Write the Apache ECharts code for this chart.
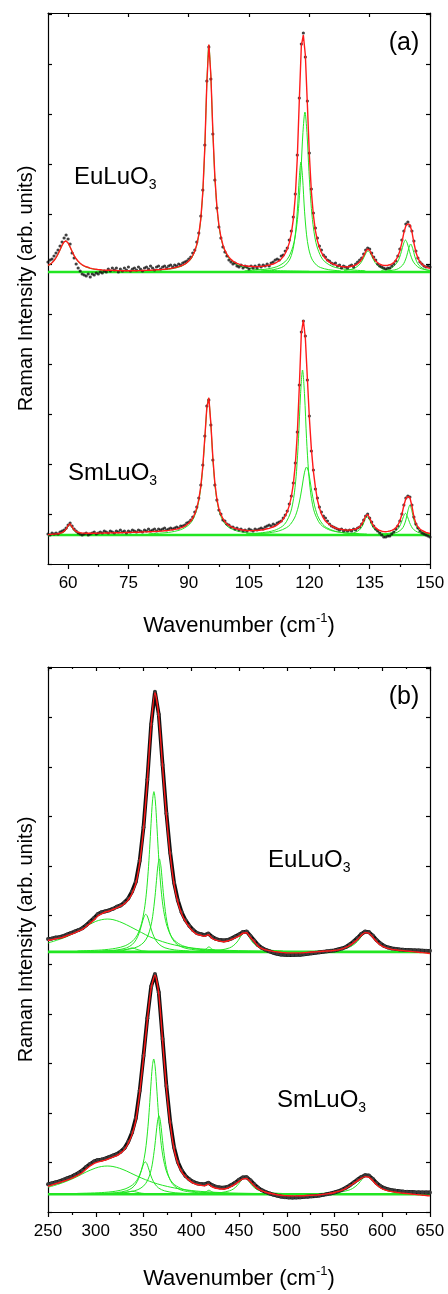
<!DOCTYPE html>
<html><head><meta charset="utf-8">
<script src="https://cdn.jsdelivr.net/npm/echarts@6/dist/echarts.min.js"></script>
<style>html,body{margin:0;padding:0;background:#fff}#c{width:448px;height:1294px}</style>
</head><body><div id="c"></div>
<script>
// ================= DATA =================
// Panel (a): low-frequency region, sampled every 0.5 cm-1
const aWave = [55,55.5,56,56.5,57,57.5,58,58.5,59,59.5,60,60.5,61,61.5,62,62.5,63,63.5,64,64.5,
65,65.5,66,66.5,67,67.5,68,68.5,69,69.5,70,70.5,71,71.5,72,72.5,73,73.5,74,74.5,
75,75.5,76,76.5,77,77.5,78,78.5,79,79.5,80,80.5,81,81.5,82,82.5,83,83.5,84,84.5,
85,85.5,86,86.5,87,87.5,88,88.5,89,89.5,90,90.5,91,91.5,92,92.5,93,93.5,94,94.5,
95,95.5,96,96.5,97,97.5,98,98.5,99,99.5,100,100.5,101,101.5,102,102.5,103,103.5,104,104.5,
105,105.5,106,106.5,107,107.5,108,108.5,109,109.5,110,110.5,111,111.5,112,112.5,113,113.5,114,114.5,
115,115.5,116,116.5,117,117.5,118,118.5,119,119.5,120,120.5,121,121.5,122,122.5,123,123.5,124,124.5,
125,125.5,126,126.5,127,127.5,128,128.5,129,129.5,130,130.5,131,131.5,132,132.5,133,133.5,134,134.5,
135,135.5,136,136.5,137,137.5,138,138.5,139,139.5,140,140.5,141,141.5,142,142.5,143,143.5,144,144.5,
145,145.5,146,146.5,147,147.5,148,148.5,149,149.5,150];

const aEuFit = [298.5,299.8,301.3,303.5,306.4,310,314.3,318.8,322.2,323.1,321.1,317,312.5,308.4,305.2,302.7,300.7,299.2,298.1,297.2,
296.7,295.9,295.4,295,294.7,294.4,294.2,294,293.9,293.8,293.8,293.7,293.6,293.5,293.5,293.4,293.4,293.3,293.3,293.3,
293.3,293.3,293.3,293.3,293.3,293.4,293.4,293.5,293.5,293.6,293.8,293.8,293.9,294,294.2,294.3,294.4,294.6,294.8,295,
295.2,295.5,295.9,296.3,296.7,297.3,298,298.8,299.9,301.2,303,305.3,308.5,312.9,319.4,329.3,345.2,371.9,416.8,480.6,
519.5,489,432.3,386.9,357.5,339,327,319,313.6,309.6,306.8,304.6,302.9,301.6,300.6,299.8,299.1,298.6,298.2,298,
297.8,297.6,297.5,297.4,297.4,297.5,297.6,297.8,298.1,298.5,298.9,299.5,300,300.8,302,303.3,305.1,307.5,310.7,314.9,
321.1,330.2,344.3,367.4,406,463.9,518,529,509,460,409,372.2,348.8,333.3,323.3,316.4,311.6,308,305.5,303.4,
301.9,300.8,299.8,299,298.4,297.9,297.5,297.3,297.1,297.2,297.5,297.8,298.3,299,300.2,302,304.7,308.4,312.5,315,
313.7,309.8,305.7,303,301.3,299.8,299,298.6,298.5,298.7,299.2,300.1,301.5,303.8,307.5,313,321.4,331.4,338.3,340.1,
339.3,332.4,321,311.8,305.8,302.2,299.9,298.2,297.1,296.2,295.6];

const aEuObs = [302,304,305,308,311,314,318,322,326,329,325,320,311,306,300,296,293,290,289,288,
290,287,290,289,291,290,292,291,293,292,295,293,296,294,296,292,295,293,296,294,
297,293,295,296,294,297,295,293,296,297,295,298,296,294,297,298,295,297,298,296,
298,299,297,299,298,300,299,301,302,303,305,307,311,314,322,331,348,374,419,483,
517,485,430,384,356,337,326,317,312,308,304,302,300,301,298,297,299,296,298,297,
295,298,296,298,296,299,297,299,298,300,298,301,302,304,305,304,308,309,313,316,
324,333,347,370,409,466,520,531,507,463,411,375,351,336,326,318,314,309,307,304,
303,301,300,301,298,299,296,298,297,296,298,299,297,300,302,304,306,310,314,316,
315,311,307,304,300,298,297,296,295,296,296,298,300,303,308,315,324,333,340,342,
338,333,323,313,306,302,300,298,297,298,297];

const aSmFit = [29.4,29.6,29.7,29.9,30.1,30.3,30.8,31.4,32.6,34.9,38.5,40.2,37,34.1,32.5,31.7,31.2,31,30.9,30.8,
30.8,30.8,30.8,30.8,30.8,30.9,30.9,30.9,31,31,31,31.1,31.1,31.2,31.2,31.3,31.3,31.4,31.4,31.5,
31.5,31.6,31.6,31.7,31.8,31.8,31.9,32,32.1,32.1,32.2,32.3,32.4,32.5,32.6,32.7,32.9,33,33.2,33.4,
33.6,33.9,34.2,34.6,34.9,35.5,36.1,36.9,37.9,39.2,40.8,43,46,50.1,55.9,64.6,77.7,97.9,126.5,156.7,
166.3,140.6,106.1,80.8,65,55.1,49.6,45.3,42.2,40,38.7,37.4,36.4,35.7,35.1,34.7,34.3,34,33.7,33.5,
33.4,33.4,33.4,33.5,33.6,33.8,34,34.3,34.7,35.2,35.6,36.3,37,38,39.1,40.7,42.5,44.9,48.2,52.4,
58.4,66.9,79.6,99.1,130.2,177.2,230.5,244,226,186,146,114.9,92.6,76.8,64,56,50,46,43,41,
39.5,38,37,36,35.4,35,34.6,34.2,34,33.9,34,34.3,34.6,35,35.9,37.3,39.6,43.4,48,49.5,
46,41.4,38.1,36.1,34.6,33.5,32.8,32.4,32.3,32.6,33,33.6,34.6,36.2,38.8,43,49.5,58.5,65.5,67.5,
66.5,58,47,40.5,37,35,33.5,32.5,31.5,31,30.5];

const aSmObs = [30,29,31,30,31,30,32,33,34,36,39,41,38,35,33,31,30,29,30,31,
29,30,31,32,30,31,32,31,33,32,31,33,32,31,33,32,34,32,33,31,
33,32,34,33,32,34,33,32,34,33,35,33,34,35,33,35,34,35,36,34,
35,36,35,36,37,36,38,38,39,41,42,44,47,52,57,66,79,99,128,158,
164,139,104,79,64,54,50,44,43,40,39,37,37,35,36,34,35,33,34,33,
35,34,33,35,34,35,36,35,37,38,39,38,40,39,41,42,43,46,49,53,
60,68,81,101,132,179,232,243,228,184,148,113,94,75,66,57,52,48,46,43,
40,38,37,36,35,34,35,33,34,33,34,33,35,34,36,37,40,44,48,50,
46,42,38,35,33,31,29,27,27,28,28,30,32,35,38,43,50,59,66,68,
67,59,47,40,36,33,31,30,29,28,27];

// Panel (a) fitted Lorentzian components [wavenumber, intensity]
const aEuG1 = [[55,298.2],[56,301.1],[57,306.2],[58,314.1],[58.5,318.6],[59,322],[59.4,323],[60,320.9],[60.5,316.8],[61,312.3],[62,304.9],[63,300.4],[64,297.8],[65,296.1],[66,295.1],[68,293.9],[70,293.3],[75,292.6],[80,292.4]];
const aEuG2 = [[80,293.2],[85,294.7],[88,297.5],[90,302.5],[91,308],[92,318.9],[92.5,328.8],[93,344.7],[93.5,371.4],[94,416.3],[94.5,480.1],[95,519],[95.5,488],[96,431.7],[96.5,386.3],[97,356.9],[97.5,338.3],[98,326.3],[99,312.6],[100,305.7],[102,299.2],[105,295.6],[110,293.6],[120,292.7]];
const aEuG3 = [[108,293.1],[111,294.3],[113,296.4],[114,298.8],[115,303.7],[115.5,308.3],[116,315.9],[116.5,329.2],[117,352.8],[117.5,386.8],[117.9,402],[118.3,386.8],[118.8,352.8],[119.3,329.2],[119.8,315.9],[120.3,308.3],[120.8,303.7],[121.8,298.8],[122.8,296.4],[124.8,294.3],[127.8,293.1]];
const aEuG4 = [[103.9,293.2],[108.9,294.7],[111.9,297.3],[113.9,302.1],[114.9,307.2],[115.9,317.3],[116.4,326],[116.9,339.5],[117.4,360.6],[117.9,392.5],[118.4,431.4],[118.9,452],[119.4,431.4],[119.9,392.5],[120.4,360.6],[120.9,339.5],[121.4,326],[121.9,317.3],[122.9,307.2],[123.9,302.1],[125.9,297.3],[128.9,294.7],[133.9,293.2]];
const aEuG5 = [[128.6,293.4],[130.6,294.8],[131.6,296.6],[132.6,300.1],[133.1,303.1],[133.6,307],[134.1,311.1],[134.6,313],[135.1,311.1],[135.6,307],[136.1,303.1],[136.6,300.1],[137.6,296.6],[138.6,294.8],[140.6,293.4]];
const aEuG6 = [[137.9,293.5],[139.9,295.2],[140.9,297.3],[141.9,301.9],[142.4,306.2],[142.9,312.6],[143.4,320.1],[143.9,324],[144.4,320.1],[144.9,312.6],[145.4,306.2],[145.9,301.9],[146.9,297.3],[147.9,295.2],[150,293.5]];
const aEuG7 = [[139.2,293.2],[141.2,294.1],[142.2,295.5],[143.2,298.9],[143.7,302.3],[144.2,307.8],[144.7,315.5],[145.2,320],[145.7,315.5],[146.2,307.8],[146.7,302.3],[147.2,298.9],[148.2,295.5],[149.2,294.1],[150,293.6]];
const aSmG1 = [[55.8,29.4],[57.3,29.8],[58.5,30.9],[59.3,33.2],[59.8,36.2],[60.4,39.5],[61,36.2],[61.5,33.2],[62.3,30.9],[63.5,29.8],[65,29.4]];
const aSmG2 = [[80,30.2],[85,31.6],[88,34.3],[90,39],[91,44.2],[92,54.2],[92.5,62.9],[93,76.1],[93.5,96.3],[94,124.9],[94.5,155.1],[94.9,165.7],[95.5,139.2],[96,104.7],[96.5,79.5],[97,63.7],[97.5,53.8],[98,47.4],[99,40.2],[100,36.5],[102,33],[105,31],[110,29.9],[120,29.3]];
const aSmG3 = [[104.3,30.2],[108.3,31.3],[111.3,33.6],[113.3,37.7],[114.3,42.3],[115.3,51.2],[115.8,59.2],[116.3,71.8],[116.8,92.3],[117.3,125.3],[117.8,169],[118.3,194],[118.8,169],[119.3,125.3],[119.8,92.3],[120.3,71.8],[120.8,59.2],[121.3,51.2],[122.3,42.3],[123.3,37.7],[125.3,33.6],[128.3,31.3],[132.3,30.2]];
const aSmG4 = [[104.3,29.9],[109.3,31],[112.3,32.9],[114.3,36.3],[115.3,39.7],[116.3,46],[116.8,51.1],[117.3,58.1],[117.8,67.9],[118.3,80],[118.8,91.8],[119.3,97],[119.8,91.8],[120.3,80],[120.8,67.9],[121.3,58.1],[121.8,51.1],[122.3,46],[123.3,39.7],[124.3,36.3],[126.3,32.9],[129.3,31],[134.3,29.9]];
const aSmG5 = [[128.4,29.7],[130.4,30.5],[131.4,31.6],[132.4,33.9],[132.9,36.2],[133.4,39.8],[133.9,45.2],[134.4,47],[134.9,45.2],[135.4,39.8],[135.9,36.2],[136.4,33.9],[137.4,31.6],[138.4,30.5],[140.4,29.7]];
const aSmG6 = [[137.9,29.8],[139.9,30.8],[140.9,31.9],[141.9,34.6],[142.4,37.3],[142.9,41.7],[143.4,47.4],[143.9,50.7],[144.4,47.4],[144.9,41.7],[145.4,37.3],[145.9,34.6],[146.9,31.9],[147.9,30.8],[150,29.8]];
const aSmG7 = [[139,29.8],[140,30.2],[141,30.8],[142,32],[143,35],[143.5,38.2],[144,44],[144.5,53],[145,59],[145.5,53],[146,44],[146.5,38.2],[147,35],[148,32],[149,30.8],[150,30.2]];
const aBaselines = [292, 29];            // EuLuO3, SmLuO3 offsets
const aTicks = [60, 75, 90, 105, 120, 135, 150];
const aMinorTicks = [67.5, 82.5, 97.5, 112.5, 127.5, 142.5];

// Panel (b): high-frequency region, sampled every 4 cm-1
const bWave = [250,254,258,262,266,270,274,278,282,286,290,294,298,302,306,310,314,318,322,326,
330,334,338,342,346,350,354,358,362,366,370,374,378,382,386,390,394,398,402,406,
410,414,418,422,426,430,434,438,442,446,450,454,458,462,466,470,474,478,482,486,
490,494,498,502,506,510,514,518,522,526,530,534,538,542,546,550,554,558,562,566,
570,574,578,582,586,590,594,598,602,606,610,614,618,622,626,630,634,638,642,646,650];

const bEuFit = [274.5,275.4,276.3,276.9,277.8,279.3,280.7,282.3,284,285.8,288.7,291.8,295.1,299.2,301.3,303.3,304.3,305.9,307.5,309.3,
311.6,315.5,322,332.3,353.3,387.2,435.6,492.4,525,501,449.8,400.9,360.9,331.4,313.2,301.3,293.6,288,283.5,280.8,
279.8,278.8,280.3,276.5,274.8,273.8,273.2,274,275.5,277.2,279,281.8,282.3,277.5,273.5,268.7,266.3,265,264.2,263.5,
263,262.5,262.2,262,262,262,262,262.2,262.5,262.8,263,263.3,263.6,263.8,264,264.5,265,266,267.5,269.5,
272.3,275.5,279.5,282.5,282,278,273.5,270,267.8,266.5,265.5,265,264.5,264.2,263.8,263.4,263,262.6,262.2,261.8,261.4];

const bEuObs = [276,276.5,277.5,278,279,280.5,282,283.5,285,287,290,293.5,297,301,303,304,305,306.5,308.5,310,
313,317,324,334,355,389,437,493,526,503,452,403,363,333,315,303,295,289.5,285,282,
281,280,281.5,278,276,275,274.5,275,276.5,278.5,280.5,283,283.5,279,274.5,270,267,265,263.5,262,
261,260.3,260,259.8,259.8,260,260,260.5,261,261.5,262,262.5,263,263.5,264,264.5,265.5,266.5,268,270.5,
273.5,277,281,283.5,283,279.5,275,271.5,269,267.5,266.5,266,265.5,265.2,265,264.8,264.6,264.4,264.2,264,264];

const bSmFit = [26,27.3,28.6,29.8,31,32.2,33.7,35.5,37.5,40,43.5,46.5,49,50.5,51.5,52.5,54,55.5,57,59.5,
63,69.5,78.5,93,120.7,156,194,226,239.5,220.4,173.2,125.6,89.4,63.7,49,40.5,35.5,32,29.3,27.8,
27,26.4,28.2,25.3,24,23.4,23.2,24,25.8,28.2,31,33.5,33.8,30.5,26.5,23.3,21.3,20,19,18.2,
17.5,17,16.6,16.4,16.3,16.3,16.4,16.5,16.7,16.9,17.1,17.4,17.8,18.3,18.9,19.7,20.8,22.2,24,26.3,
28.8,31.5,34,35.8,35.3,31.8,27.5,24.5,22.6,21.4,20.6,20,19.5,19,18.6,18.2,17.8,17.4,17,16.7,16.3];

const bSmObs = [28,29,30,31,32.5,34,35.5,37.5,39.5,42,45.5,48.5,51,52.5,53,54,55.5,57,58.5,61,
64.5,71,80.5,95,122.5,158,196,228,240.5,222,175,127.5,91,65.5,50.5,42,36.5,33,30.5,29,
28.3,28,29.5,27,25.5,24.8,24.6,25.4,27.2,29.6,32.5,35,35.2,32,28,24.5,22,20.3,18.8,17.5,
16.5,15.6,15,14.7,14.6,14.7,14.9,15.2,15.5,15.8,16.1,16.6,17.2,18,18.8,19.8,21,22.6,24.6,27,
29.8,32.7,35.3,37.2,36.8,33.5,29.3,26.2,24.3,23,22.2,21.6,21.1,20.7,20.4,20.2,20,19.9,19.8,19.7,19.7];

const bEuBroad = [[250,272],[260,275],[270,278.5],[280,283.5],[290,289],[300,293.8],[306,295.5],[312,296.2],[318,295.6],[325,293.5],[332,290.5],[340,286.5],[348,282.5],[356,278.5],[365,275],[375,271.8],[390,268.5],[410,266],[440,264.5],[480,263.6],[560,263.2],[650,263]];
const bEu338 = [[320,263.3],[328,264.2],[333,265.5],[338,267],[343,265.5],[348,264.2],[356,263.3]];
const bEu352 = [[307.4,263.9],[322.4,265],[332.4,267.1],[338.4,270.6],[342.4,275.5],[345.4,282],[347.4,288.2],[349.4,295.1],[350.9,299.3],[352.4,301],[353.9,299.3],[355.4,295.1],[357.4,288.2],[359.4,282],[362.4,275.5],[366.4,270.6],[372.4,267.1],[382.4,265],[397.4,263.9]];
const bEu361 = [[280.9,263.9],[305.9,264.9],[320.9,266.6],[330.9,269.2],[338.9,274.2],[343.9,280.9],[347.9,291.5],[350.9,305.9],[352.9,321.3],[354.9,344],[356.4,366.7],[357.9,392.6],[359.4,415.5],[360.9,425],[362.4,415.5],[363.9,392.6],[365.4,366.7],[366.9,344],[368.9,321.3],[370.9,305.9],[373.9,291.5],[377.9,280.9],[382.9,274.2],[390.9,269.2],[400.9,266.6],[415.9,264.9],[440.9,263.9]];
const bEu367 = [[296.6,263.6],[321.6,264.4],[336.6,266.1],[344.6,268.5],[350.6,272.9],[354.6,279.3],[357.6,288.6],[359.6,298.9],[362.1,319.3],[363.6,335.3],[365.1,350.5],[366.6,357],[368.1,350.5],[369.6,335.3],[371.1,319.3],[373.6,298.9],[375.6,288.6],[378.6,279.3],[382.6,272.9],[388.6,268.5],[396.6,266.1],[411.6,264.4],[436.6,263.6]];
const bEu418 = [[405,263.4],[411,264.2],[415,265.6],[418.5,268],[422,265.6],[426,264.2],[432,263.4]];
const bEu456 = [[416,263.8],[431,264.9],[440,267],[444,269.2],[448,273],[450,275.8],[453,280.5],[456,283],[459,280.5],[462,275.8],[464,273],[468,269.2],[472,267],[481,264.9],[496,263.8]];
const bEu584 = [[534,263.8],[554,265.1],[564,267.2],[569,269.5],[574,273.5],[577,277.1],[580,281.1],[584,284],[588,281.1],[591,277.1],[594,273.5],[599,269.5],[604,267.2],[614,265.1],[634,263.8],[650,263.4]];
const bSmBroad = [[250,25],[260,27.8],[270,31.3],[280,35.5],[290,40.5],[300,44.5],[306,46],[312,46.5],[318,46],[325,44.2],[332,41.5],[340,37.8],[348,34.3],[356,31.2],[365,28.3],[375,25.8],[390,23],[410,20.8],[440,19.3],[480,18.6],[560,18.2],[650,18]];
const bSm338 = [[320,18.3],[328,19],[333,20],[338,21],[343,20],[348,19],[356,18.3]];
const bSm352 = [[306.9,18.7],[321.9,19.6],[331.9,21.4],[337.9,24.2],[341.9,28.3],[344.9,33.8],[346.9,39.2],[348.9,45.3],[350.4,49.2],[351.9,50.7],[353.4,49.2],[354.9,45.3],[356.9,39.2],[358.9,33.8],[361.9,28.3],[365.9,24.2],[371.9,21.4],[381.9,19.6],[396.9,18.7]];
const bSm361 = [[280.7,18.8],[305.7,19.6],[320.7,21],[330.7,23.3],[338.7,27.5],[343.7,33.1],[347.7,42],[350.7,54.2],[352.7,67.2],[354.7,86.4],[356.2,105.5],[357.7,127.4],[359.2,146.7],[360.7,154.7],[362.2,146.7],[363.7,127.4],[365.2,105.5],[366.7,86.4],[368.7,67.2],[370.7,54.2],[373.7,42],[377.7,33.1],[382.7,27.5],[390.7,23.3],[400.7,21],[415.7,19.6],[440.7,18.8]];
const bSm367 = [[296.2,18.5],[321.2,19.2],[336.2,20.6],[344.2,22.6],[350.2,26.4],[354.2,31.8],[357.2,39.6],[359.2,48.3],[361.7,65.5],[363.2,79],[364.7,91.8],[366.2,97.3],[367.7,91.8],[369.2,79],[370.7,65.5],[373.2,48.3],[375.2,39.6],[378.2,31.8],[382.2,26.4],[388.2,22.6],[396.2,20.6],[411.2,19.2],[436.2,18.5]];
const bSm418 = [[405,18.3],[411,19],[415,20.2],[418.5,22],[422,20.2],[426,19],[432,18.3]];
const bSm456 = [[416,18.7],[431,19.6],[440,21.4],[444,23.2],[448,26.5],[450,28.9],[453,32.9],[456,35],[459,32.9],[462,28.9],[464,26.5],[468,23.2],[472,21.4],[481,19.6],[496,18.7]];
const bSm584 = [[534,18.7],[554,19.9],[564,21.8],[569,23.8],[574,27.5],[577,30.8],[580,34.4],[584,37],[588,34.4],[591,30.8],[594,27.5],[599,23.8],[604,21.8],[614,19.9],[634,18.7],[650,18.4]];
const bBaselines = [263, 18];

const aRange = [55, 150];
const bRange = [250, 650];
const yRange = [0, 551];

// ================= CHART =================
const FONT = "'Liberation Sans', Arial, Helvetica, sans-serif";
const RED = '#ff1a1a', GREEN = '#22e622', INK = '#000';
const pairs = (xs, ys) => xs.map((x, i) => [x, ys[i]]);

const series = [];
function addLine(data, xi, yi, color, width, z, smooth) {
  series.push({ type: 'line', xAxisIndex: xi, yAxisIndex: yi, data: data, symbol: 'none',
    smooth: smooth || false, lineStyle: { color: color, width: width }, z: z, silent: true, animation: false });
}
function addDots(data, xi, yi) {
  series.push({ type: 'scatter', xAxisIndex: xi, yAxisIndex: yi, data: data, symbolSize: 3.2,
    itemStyle: { color: '#111' }, z: 3, silent: true, animation: false });
}
function addBand(data, xi, yi) {
  series.push({ type: 'line', xAxisIndex: xi, yAxisIndex: yi, data: data, symbol: 'circle', symbolSize: 4,
    showSymbol: true, showAllSymbol: true, itemStyle: { color: '#3a3a3a', borderWidth: 0 },
    lineStyle: { color: '#111', width: 3.8 }, z: 3, silent: true, animation: false });
}

// panel (a): xAxis 0, yAxis 0
[aEuG1, aEuG2, aEuG3, aEuG4, aEuG5, aEuG6, aEuG7, aSmG1, aSmG2, aSmG3, aSmG4, aSmG5, aSmG6, aSmG7]
  .forEach(d => addLine(d, 0, 0, GREEN, 1, 2, 0.3));
aBaselines.forEach(b => addLine([[aRange[0], b], [aRange[1], b]], 0, 0, GREEN, 2.6, 2));
addDots(pairs(aWave, aEuObs), 0, 0);
addDots(pairs(aWave, aSmObs), 0, 0);
addLine(pairs(aWave, aEuFit), 0, 0, RED, 1.4, 4);
addLine(pairs(aWave, aSmFit), 0, 0, RED, 1.4, 4);

// panel (b): xAxis 3, yAxis 2
[bEuBroad, bEu338, bEu352, bEu361, bEu367, bEu418, bEu456, bEu584,
 bSmBroad, bSm338, bSm352, bSm361, bSm367, bSm418, bSm456, bSm584]
  .forEach(d => addLine(d, 3, 2, GREEN, 1, 2, 0.3));
bBaselines.forEach(b => addLine([[bRange[0], b], [bRange[1], b]], 3, 2, GREEN, 2.6, 2));
addBand(pairs(bWave, bEuObs), 3, 2);
addBand(pairs(bWave, bSmObs), 3, 2);
addLine(pairs(bWave, bEuFit), 3, 2, RED, 1.4, 4, 0.25);
addLine(pairs(bWave, bSmFit), 3, 2, RED, 1.4, 4, 0.25);

const lineSt = { color: INK, width: 1.2 };
const axLine = { show: true, onZero: false, lineStyle: lineSt };
function xName(gap) {
  return {
    name: 'Wavenumber (cm{sup|-1})', nameLocation: 'middle', nameGap: gap,
    nameTextStyle: { fontSize: 22, fontFamily: FONT, color: INK, lineHeight: 28,
      rich: { sup: { fontSize: 13, fontFamily: FONT, color: INK, lineHeight: 16, verticalAlign: 'top' } } }
  };
}
const xLabel = { fontSize: 17, fontFamily: FONT, color: INK, margin: 11 };

function yAxisDef(grid, pos, withName) {
  const o = { type: 'value', gridIndex: grid, position: pos, min: yRange[0], max: yRange[1], interval: 50,
    axisLine: axLine, axisTick: { show: true, inside: true, length: 4, lineStyle: lineSt },
    axisLabel: { show: false }, splitLine: { show: false } };
  if (withName) {
    o.name = 'Raman Intensity (arb. units)';
    o.nameLocation = 'middle';
    o.nameGap = 12;
    o.nameTextStyle = { fontSize: 20, fontFamily: FONT, color: INK };
  }
  return o;
}

function label(x, y, main, sub) {
  return { type: 'text', x: x, y: y, silent: true, z: 10,
    style: { text: '{m|' + main + '}{s|' + sub + '}', align: 'left', verticalAlign: 'middle',
      rich: { m: { fontSize: 24, fontFamily: FONT, fill: INK, lineHeight: 30 },
              s: { fontSize: 14, fontFamily: FONT, fill: INK, lineHeight: 10, verticalAlign: 'bottom' } } } };
}
function tag(x, y, t) {
  return { type: 'text', x: x, y: y, silent: true, z: 10,
    style: { text: t, fontSize: 25, fontFamily: FONT, fill: INK, align: 'center', verticalAlign: 'middle' } };
}

const option = {
  animation: false,
  backgroundColor: '#fff',
  textStyle: { fontFamily: FONT },
  grid: [
    { left: 48, top: 13, width: 382, height: 551 },
    { left: 48, top: 667, width: 382, height: 551 }
  ],
  xAxis: [
    Object.assign({ type: 'value', gridIndex: 0, position: 'bottom', min: aRange[0], max: aRange[1],
      axisLine: axLine, splitLine: { show: false },
      axisTick: { show: true, length: 5, customValues: aTicks, lineStyle: lineSt },
      axisLabel: Object.assign({ customValues: aTicks }, xLabel) }, xName(48)),
    { type: 'value', gridIndex: 0, position: 'bottom', min: aRange[0], max: aRange[1],
      axisLine: { show: false }, splitLine: { show: false }, axisLabel: { show: false },
      axisTick: { show: true, length: 3, customValues: aMinorTicks, lineStyle: lineSt } },
    { type: 'value', gridIndex: 0, position: 'top', min: aRange[0], max: aRange[1],
      axisLine: axLine, splitLine: { show: false }, axisLabel: { show: false },
      axisTick: { show: true, inside: true, length: 4, customValues: aTicks, lineStyle: lineSt } },
    Object.assign({ type: 'value', gridIndex: 1, position: 'bottom', min: bRange[0], max: bRange[1], interval: 50,
      axisLine: axLine, splitLine: { show: false },
      axisTick: { show: true, length: 5, lineStyle: lineSt },
      minorTick: { show: true, splitNumber: 2, length: 3, lineStyle: lineSt },
      axisLabel: xLabel }, xName(53)),
    { type: 'value', gridIndex: 1, position: 'top', min: bRange[0], max: bRange[1], interval: 50,
      axisLine: axLine, splitLine: { show: false }, axisLabel: { show: false },
      axisTick: { show: true, inside: true, length: 4, lineStyle: lineSt },
      minorTick: { show: true, splitNumber: 2, length: 2, lineStyle: lineSt } }
  ],
  yAxis: [
    yAxisDef(0, 'left', true), yAxisDef(0, 'right', false),
    yAxisDef(1, 'left', true), yAxisDef(1, 'right', false)
  ],
  series: series,
  graphic: [
    label(74, 177, 'EuLuO', '3'), label(68, 473, 'SmLuO', '3'),
    label(268, 860, 'EuLuO', '3'), label(277, 1100, 'SmLuO', '3'),
    tag(404, 43, '(a)'), tag(404, 697, '(b)')
  ]
};

const chart = echarts.init(document.getElementById('c'), null, { renderer: 'canvas' });
chart.setOption(option);
</script>
</body></html>
